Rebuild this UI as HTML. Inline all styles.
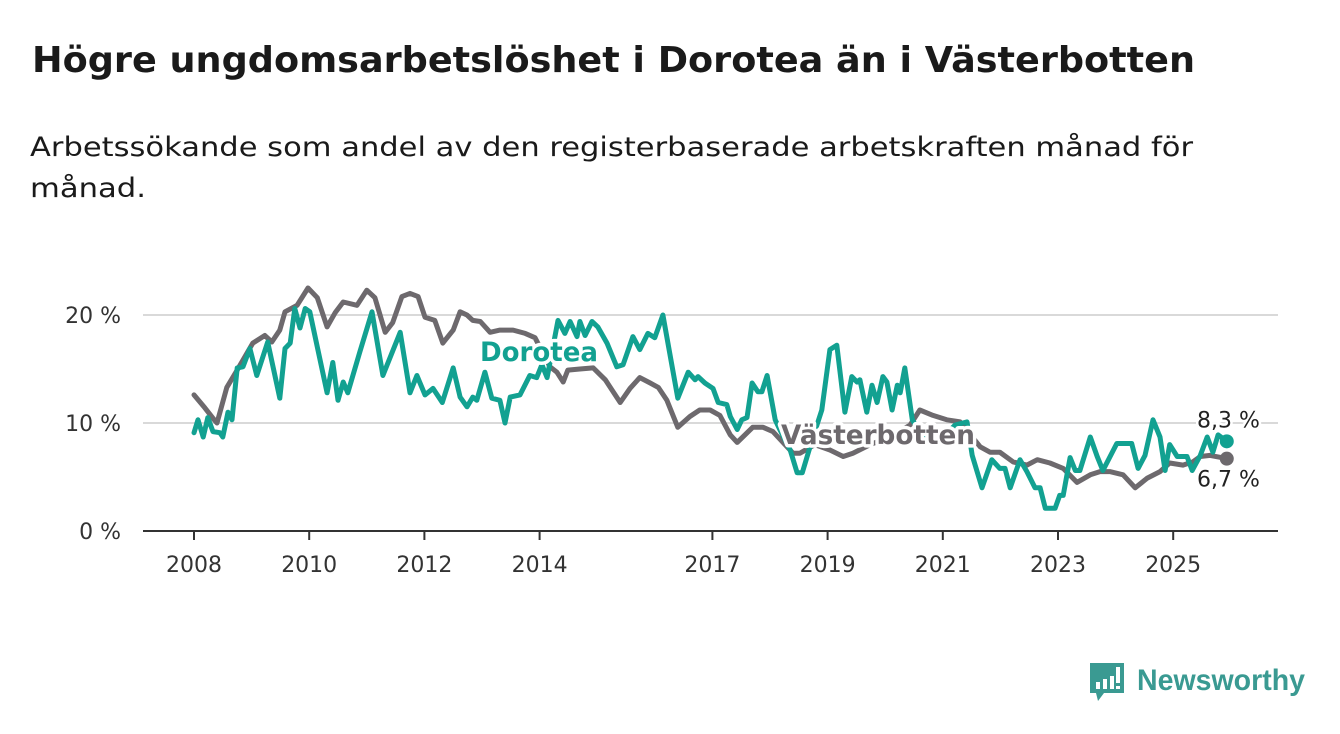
<!DOCTYPE html>
<html><head><meta charset="utf-8"><style>
html,body{margin:0;padding:0;background:#fff;}
svg{display:block;font-family:"DejaVu Sans","Liberation Sans",sans-serif;}
</style></head><body>
<svg id="chart" width="1340" height="734" viewBox="0 0 1340 734">
<text x="32" y="72" font-size="36" font-weight="bold" fill="#1a1a1a" textLength="1163" lengthAdjust="spacingAndGlyphs">Högre ungdomsarbetslöshet i Dorotea än i Västerbotten</text>
<text x="30" y="156" font-size="27" fill="#1a1a1a" textLength="1163" lengthAdjust="spacingAndGlyphs">Arbetssökande som andel av den registerbaserade arbetskraften månad för</text>
<text x="30" y="197" font-size="27" fill="#1a1a1a" textLength="116" lengthAdjust="spacingAndGlyphs">månad.</text>
<g id="grid"></g>
<g id="series"></g>
<g id="labels"></g>
<g>
<path d="M1090 663 h34 v30 h-20 l-6 8 l-2 -8 h-6 z" fill="#3a9a92"/>
<rect x="1096" y="682" width="4" height="7" fill="#fff"/><rect x="1103" y="679" width="4" height="10" fill="#fff"/><rect x="1110" y="676" width="4" height="13" fill="#fff"/><rect x="1116" y="667" width="4" height="16" fill="#fff"/><rect x="1116" y="686" width="4" height="3" fill="#fff"/>
<text x="1137" y="690" font-family="Liberation Sans, sans-serif" font-size="30" font-weight="bold" fill="#3a9a92" textLength="168" lengthAdjust="spacingAndGlyphs">Newsworthy</text>
</g>
</svg>
<script>
const yTicks = [0, 10, 20];
const yTickLabels = ["0 %", "10 %", "20 %"];
const xTicks = [2008, 2010, 2012, 2014, 2017, 2019, 2021, 2023, 2025];
const dorotea = [[2008.00,9.1],[2008.07,10.3],[2008.16,8.7],[2008.24,10.5],[2008.33,9.2],[2008.45,9.1],[2008.50,8.7],[2008.59,11.0],[2008.66,10.3],[2008.75,15.1],[2008.85,15.2],[2008.97,16.9],[2009.09,14.4],[2009.28,17.5],[2009.49,12.3],[2009.58,16.9],[2009.67,17.4],[2009.75,20.6],[2009.84,18.8],[2009.93,20.6],[2010.01,20.3],[2010.31,12.8],[2010.41,15.6],[2010.50,12.1],[2010.59,13.8],[2010.67,12.8],[2010.88,16.6],[2011.09,20.3],[2011.28,14.4],[2011.58,18.4],[2011.75,12.8],[2011.87,14.4],[2012.01,12.6],[2012.15,13.2],[2012.31,11.9],[2012.50,15.1],[2012.62,12.4],[2012.74,11.5],[2012.84,12.4],[2012.91,12.1],[2013.05,14.7],[2013.17,12.3],[2013.31,12.1],[2013.40,10.0],[2013.49,12.4],[2013.66,12.6],[2013.83,14.4],[2013.95,14.2],[2014.04,15.4],[2014.13,14.2],[2014.32,19.5],[2014.44,18.3],[2014.53,19.4],[2014.65,18.0],[2014.70,19.4],[2014.79,18.1],[2014.91,19.4],[2015.01,18.9],[2015.17,17.4],[2015.34,15.2],[2015.45,15.4],[2015.62,18.0],[2015.74,16.8],[2015.88,18.3],[2016.00,17.9],[2016.14,20.0],[2016.40,12.3],[2016.58,14.7],[2016.70,14.0],[2016.75,14.3],[2016.87,13.7],[2017.01,13.2],[2017.10,11.9],[2017.25,11.7],[2017.31,10.6],[2017.43,9.4],[2017.51,10.3],[2017.60,10.5],[2017.69,13.7],[2017.79,12.9],[2017.86,12.9],[2017.95,14.4],[2018.09,10.3],[2018.17,9.4],[2018.35,7.5],[2018.47,5.4],[2018.56,5.4],[2018.73,8.4],[2018.90,11.2],[2019.04,16.8],[2019.16,17.2],[2019.30,11.0],[2019.42,14.3],[2019.51,13.8],[2019.56,14.0],[2019.68,11.0],[2019.77,13.5],[2019.86,11.9],[2019.96,14.3],[2020.03,13.8],[2020.12,11.2],[2020.21,13.5],[2020.26,12.8],[2020.34,15.1],[2020.47,10.3],[2020.69,8.4],[2020.95,8.4],[2021.21,9.8],[2021.42,10.1],[2021.51,7.0],[2021.68,4.0],[2021.85,6.6],[2021.99,5.8],[2022.08,5.8],[2022.17,4.0],[2022.34,6.6],[2022.46,5.5],[2022.60,4.0],[2022.69,4.0],[2022.78,2.1],[2022.95,2.1],[2023.03,3.3],[2023.09,3.3],[2023.21,6.8],[2023.30,5.6],[2023.38,5.6],[2023.56,8.7],[2023.68,6.9],[2023.78,5.6],[2024.02,8.1],[2024.13,8.1],[2024.28,8.1],[2024.39,5.8],[2024.51,7.0],[2024.65,10.3],[2024.77,8.7],[2024.86,5.6],[2024.94,8.0],[2025.07,6.9],[2025.24,6.9],[2025.33,5.6],[2025.47,7.0],[2025.59,8.7],[2025.69,7.3],[2025.78,8.9],[2025.93,8.3]];
const vasterbotten = [[2008.00,12.6],[2008.19,11.4],[2008.35,10.3],[2008.40,10.0],[2008.57,13.3],[2008.75,14.9],[2009.02,17.4],[2009.23,18.1],[2009.35,17.5],[2009.49,18.6],[2009.58,20.3],[2009.79,20.9],[2009.98,22.5],[2010.14,21.6],[2010.31,18.9],[2010.45,20.2],[2010.59,21.2],[2010.83,20.9],[2011.00,22.3],[2011.14,21.6],[2011.32,18.4],[2011.45,19.3],[2011.61,21.7],[2011.75,22.0],[2011.89,21.7],[2012.01,19.8],[2012.18,19.5],[2012.32,17.4],[2012.50,18.6],[2012.62,20.3],[2012.74,20.0],[2012.84,19.5],[2012.97,19.4],[2013.14,18.4],[2013.31,18.6],[2013.54,18.6],[2013.75,18.3],[2013.92,17.9],[2014.18,15.2],[2014.30,14.7],[2014.41,13.8],[2014.49,14.9],[2014.70,15.0],[2014.93,15.1],[2015.14,14.0],[2015.40,11.9],[2015.57,13.2],[2015.74,14.2],[2015.92,13.7],[2016.06,13.3],[2016.21,12.1],[2016.40,9.6],[2016.61,10.6],[2016.78,11.2],[2016.96,11.2],[2017.13,10.7],[2017.31,8.9],[2017.43,8.2],[2017.70,9.6],[2017.88,9.6],[2018.05,9.2],[2018.40,7.2],[2018.52,7.2],[2018.78,8.0],[2019.04,7.5],[2019.27,6.9],[2019.44,7.2],[2019.74,8.0],[2020.08,8.7],[2020.43,9.8],[2020.60,11.2],[2020.83,10.7],[2021.07,10.3],[2021.30,10.1],[2021.65,7.8],[2021.82,7.3],[2021.99,7.3],[2022.22,6.4],[2022.46,6.1],[2022.64,6.6],[2022.86,6.3],[2023.09,5.8],[2023.33,4.5],[2023.56,5.2],[2023.73,5.5],[2023.90,5.5],[2024.13,5.2],[2024.34,4.0],[2024.55,4.9],[2024.77,5.5],[2024.94,6.3],[2025.17,6.1],[2025.34,6.4],[2025.47,6.9],[2025.64,7.0],[2025.93,6.7]];

const NS = "http://www.w3.org/2000/svg";
const X0 = 194, PXY = 57.6, Y0 = 531, PXV = 10.8;
function xScale(t){ return X0 + (t - 2008) * PXY; }
function yScale(v){ return Y0 - v * PXV; }
function mk(tag, attrs, parent){ const e = document.createElementNS(NS, tag); for (const k in attrs) e.setAttribute(k, attrs[k]); parent.appendChild(e); return e; }

const grid = document.getElementById('grid');
yTicks.forEach((v, i) => {
  if (v > 0) {
    const gl = mk('line', {x1:143, x2:1278, y1:yScale(v), y2:yScale(v), stroke:'#d9d9d9', 'stroke-width':2}, grid);
    
    
  }
  const t = mk('text', {x:121, y:yScale(v)+8, 'text-anchor':'end', 'font-size':22, fill:'#333'}, grid);
  t.textContent = yTickLabels[i];
  
  
});
const ax = mk('line', {x1:143, x2:1278, y1:Y0, y2:Y0, stroke:'#333', 'stroke-width':2}, grid);


xTicks.forEach(yr => {
  const tk = mk('line', {x1:xScale(yr), x2:xScale(yr), y1:Y0, y2:Y0+9, stroke:'#333', 'stroke-width':2}, grid);
  
  
  const t = mk('text', {x:xScale(yr), y:572, 'text-anchor':'middle', 'font-size':22, fill:'#333'}, grid);
  t.textContent = yr;
  
  
});

const series = document.getElementById('series');
function drawLine(data, color, name){
  const d = data.map((p, i) => (i ? 'L' : 'M') + xScale(p[0]).toFixed(1) + ' ' + yScale(p[1]).toFixed(1)).join(' ');
  const path = mk('path', {d:d, fill:'none', stroke:color, 'stroke-width':5, 'stroke-linejoin':'round', 'stroke-linecap':'round'}, series);
  
  
  const last = data[data.length-1];
  const dot = mk('circle', {cx:xScale(last[0]), cy:yScale(last[1]), r:7, fill:color}, series);
  
  
  return last;
}
const lastV = drawLine(vasterbotten, '#6d696d', 'vasterbotten-line');
const lastD = drawLine(dorotea, '#12a191', 'dorotea-line');

const labels = document.getElementById('labels');
function halo(txt, x, y, color, size, name, len){
  const t = mk('text', {x:x, y:y, 'font-size':size, 'font-weight':'bold', fill:color, stroke:'#fff', 'stroke-width':7, 'paint-order':'stroke', 'stroke-linejoin':'round', textLength:len, lengthAdjust:'spacingAndGlyphs'}, labels);
  t.textContent = txt;
  
  
  return t;
}
halo('Dorotea', 480, 361, '#12a191', 27, 'dorotea-label', 118);
halo('Västerbotten', 781, 444, '#6d696d', 27, 'vasterbotten-label', 194);
const e1 = mk('text', {x:1197, y:yScale(lastD[1]) - 14, 'font-size':22, fill:'#222', stroke:'#fff', 'stroke-width':5, 'paint-order':'stroke'}, labels);
e1.textContent = String(lastD[1]).replace('.', ',') + ' %';


const e2 = mk('text', {x:1197, y:yScale(lastV[1]) + 28, 'font-size':22, fill:'#222', stroke:'#fff', 'stroke-width':5, 'paint-order':'stroke'}, labels);
e2.textContent = String(lastV[1]).replace('.', ',') + ' %';


</script>
</body></html>
